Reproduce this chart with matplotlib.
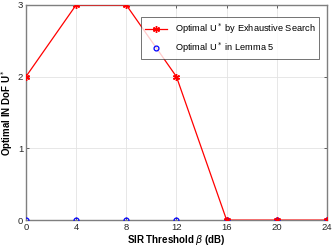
import matplotlib
matplotlib.use("Agg")
import matplotlib.pyplot as plt

# SIR threshold in dB
sir_db = [0, 4, 8, 12, 16, 20, 24]
u_exhaustive = [2, 3, 3, 2, 0, 0, 0]
u_lemma5 = [0, 0, 0, 0, 0, 0, 0]

plt.rcParams['font.family'] = ['Liberation Sans', 'DejaVu Sans']

fig = plt.figure(figsize=(3.32, 2.49), dpi=100)
ax = fig.add_axes([0.078, 0.116, 0.907, 0.864])

ax.plot(sir_db, u_lemma5, ls='none', marker='o', ms=3.5, mfc='none',
        mec='blue', mew=0.9, label='Optimal U$^*$ in Lemma 5', zorder=3)
ax.plot(sir_db, u_exhaustive, color='red', lw=0.9, marker=(6, 2, 0), ms=5,
        mew=1.0, label='Optimal U$^*$ by Exhaustive Search', zorder=4)

ax.set_xlim(0, 24)
ax.set_ylim(0, 3)
ax.set_xticks(sir_db)
ax.set_yticks([0, 1, 2, 3])
ax.grid(True, color='#e3e3e3', lw=0.6)
ax.set_axisbelow(True)
ax.tick_params(direction='in', labelsize=6.8, length=2.5, width=0.5,
               top=True, right=True, colors='#262626', pad=2)
for s in ax.spines.values():
    s.set_color('#7f7f7f')
    s.set_linewidth(1.0)

ax.set_xlabel(r'SIR Threshold $\beta$ (dB)', fontsize=7, fontweight='bold', labelpad=1)
ax.set_ylabel('Optimal IN DoF U$^*$', fontsize=7, fontweight='bold', labelpad=2)

handles, labels = ax.get_legend_handles_labels()
leg = ax.legend(handles[::-1], labels[::-1], loc='upper right',
                bbox_to_anchor=(0.99, 0.965), fontsize=6.7,
                frameon=True, fancybox=False, edgecolor='#333333',
                handlelength=2.4, borderpad=0.45, labelspacing=0.5)
leg.get_frame().set_linewidth(0.6)

fig.savefig('out.png', dpi=100)
